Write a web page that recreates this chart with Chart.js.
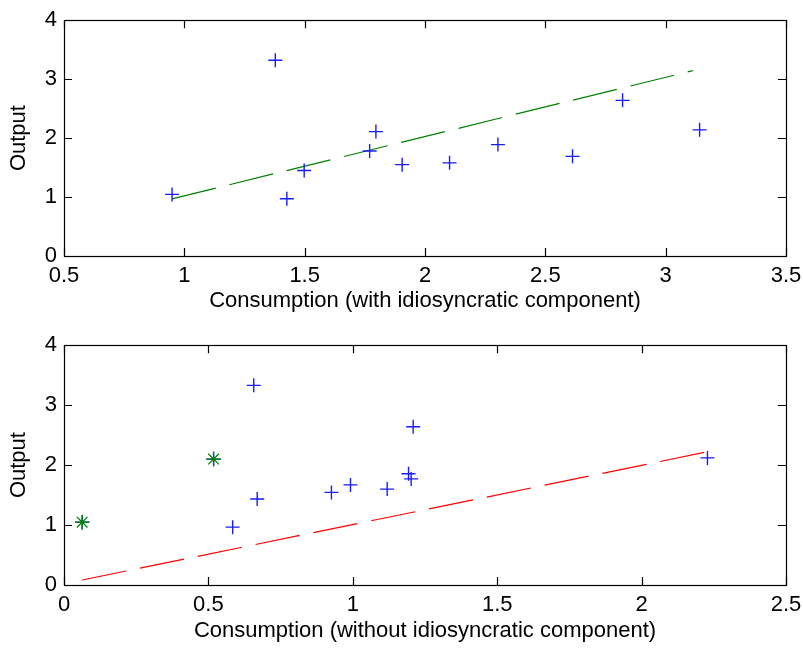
<!DOCTYPE html>
<html>
<head>
<meta charset="utf-8">
<script src="https://cdn.jsdelivr.net/npm/chart.js@4"></script>
<style>
  html, body { margin: 0; padding: 0; background: #fff; }
  canvas { display: block; }
</style>
</head>
<body>
<canvas id="topChart" width="803" height="325"></canvas>
<canvas id="bottomChart" width="803" height="324"></canvas>
<script>
// Top panel: consumption with idiosyncratic component
const consWith = [0.949, 1.378, 1.426, 1.498, 1.770, 1.796, 1.905, 2.102, 2.303, 2.613, 2.821, 3.141];
const outputTop = [1.045, 3.32, 0.97, 1.45, 1.78, 2.11, 1.55, 1.58, 1.89, 1.69, 2.64, 2.14];
const fitTopX = [0.949, 3.113];
const fitTopY = [0.97, 3.145];

// Bottom panel: consumption without idiosyncratic component
const consWithout = [0.063, 0.518, 0.657, 0.584, 0.669, 0.926, 0.992, 1.119, 1.209, 1.193, 1.202, 2.228];
const outputBottom = [1.048, 2.10, 3.33, 0.965, 1.435, 1.545, 1.67, 1.60, 2.64, 1.855, 1.77, 2.12];
const starX = [0.063, 0.518];
const starY = [1.048, 2.10];
const fitBottomX = [0.063, 2.226];
const fitBottomY = [0.083, 2.22];

const topXTicks = [0.5, 1, 1.5, 2, 2.5, 3, 3.5];
const bottomXTicks = [0, 0.5, 1, 1.5, 2, 2.5];
const yTicks = [0, 1, 2, 3, 4];

const FONT = { family: "'Liberation Sans', Arial, sans-serif", size: 22 };
// taller line box pushes the x tick labels down without widening the side padding
const XTICK_FONT = { family: FONT.family, size: 22, lineHeight: 1.75 };

function toPoints(xs, ys) {
  return xs.map((x, i) => ({ x: x, y: ys[i] }));
}

// MATLAB style box with inward ticks on all four sides
const boxTicks = {
  id: "boxTicks",
  afterDraw(chart) {
    const { ctx, chartArea: a, scales } = chart;
    const len = 8;
    ctx.save();
    ctx.strokeStyle = "#000";
    ctx.lineWidth = 1.2;
    ctx.beginPath();
    scales.x.ticks.forEach((t) => {
      const px = Math.round(scales.x.getPixelForValue(t.value)) + 0.5;
      ctx.moveTo(px, a.bottom);
      ctx.lineTo(px, a.bottom - len);
      ctx.moveTo(px, a.top);
      ctx.lineTo(px, a.top + len);
    });
    scales.y.ticks.forEach((t) => {
      const py = Math.round(scales.y.getPixelForValue(t.value)) + 0.5;
      ctx.moveTo(a.left, py);
      ctx.lineTo(a.left + len, py);
      ctx.moveTo(a.right, py);
      ctx.lineTo(a.right - len, py);
    });
    ctx.stroke();
    ctx.strokeRect(Math.round(a.left) + 0.5, Math.round(a.top) + 0.5,
      Math.round(a.right - a.left), Math.round(a.bottom - a.top));
    ctx.restore();
  },
};

function makeChart(id, cfg) {
  const ctx = document.getElementById(id).getContext("2d");
  return new Chart(ctx, {
    type: "scatter",
    data: { datasets: cfg.datasets },
    options: {
      responsive: false,
      animation: false,
      layout: { padding: { top: cfg.padTop, right: 17, left: 0, bottom: 0 } },
      plugins: { legend: { display: false }, tooltip: { enabled: false } },
      scales: {
        x: {
          type: "linear",
          min: cfg.xMin,
          max: cfg.xMax,
          afterBuildTicks: (s) => { s.ticks = cfg.xTicks.map((v) => ({ value: v })); },
          afterFit: (s) => { s.height = cfg.xHeight; },
          grid: { display: false, drawTicks: false },
          border: { display: false },
          ticks: {
            color: "#000",
            font: XTICK_FONT,
            padding: 1,
            maxRotation: 0,
            callback: (v) => String(v),
          },
          title: {
            display: true,
            text: cfg.xTitle,
            color: "#000",
            font: FONT,
            padding: { top: 0, bottom: cfg.xTitlePad },
          },
        },
        y: {
          type: "linear",
          min: 0,
          max: 4,
          afterBuildTicks: (s) => { s.ticks = yTicks.map((v) => ({ value: v })); },
          afterFit: (s) => { s.width = 64; },
          grid: { display: false, drawTicks: false },
          border: { display: false },
          ticks: { color: "#000", font: FONT, padding: 7, callback: (v) => String(v) },
          title: {
            display: true,
            text: "Output",
            color: "#000",
            font: FONT,
            padding: { top: 6, bottom: 0 },
          },
        },
      },
    },
    plugins: [boxTicks],
  });
}

function crossSet(xs, ys, order) {
  return {
    data: toPoints(xs, ys),
    showLine: false,
    pointStyle: "cross",
    pointRadius: 7,
    pointBorderWidth: 1.4,
    pointBorderColor: "#1a1aff",
    order: order,
  };
}

function dashSet(xs, ys, color) {
  return {
    data: toPoints(xs, ys),
    showLine: true,
    pointRadius: 0,
    borderColor: color,
    borderWidth: 1.2,
    borderDash: [45, 14],
    order: 3,
  };
}

makeChart("topChart", {
  padTop: 16,
  xMin: 0.5,
  xMax: 3.5,
  xTicks: topXTicks,
  xHeight: 69,
  xTitle: "Consumption (with idiosyncratic component)",
  xTitlePad: 11,
  datasets: [
    crossSet(consWith, outputTop, 1),
    dashSet(fitTopX, fitTopY, "#008000"),
  ],
});

makeChart("bottomChart", {
  padTop: 19,
  xMin: 0,
  xMax: 2.5,
  xTicks: bottomXTicks,
  xHeight: 64,
  xTitle: "Consumption (without idiosyncratic component)",
  xTitlePad: 5,
  datasets: [
    {
      data: toPoints(starX, starY),
      showLine: false,
      pointStyle: "star",
      pointRadius: 7.5,
      pointBorderWidth: 1.3,
      pointBorderColor: "#008000",
      order: 0,
    },
    crossSet(consWithout, outputBottom, 1),
    dashSet(fitBottomX, fitBottomY, "#ff0000"),
  ],
});
</script>
</body>
</html>
